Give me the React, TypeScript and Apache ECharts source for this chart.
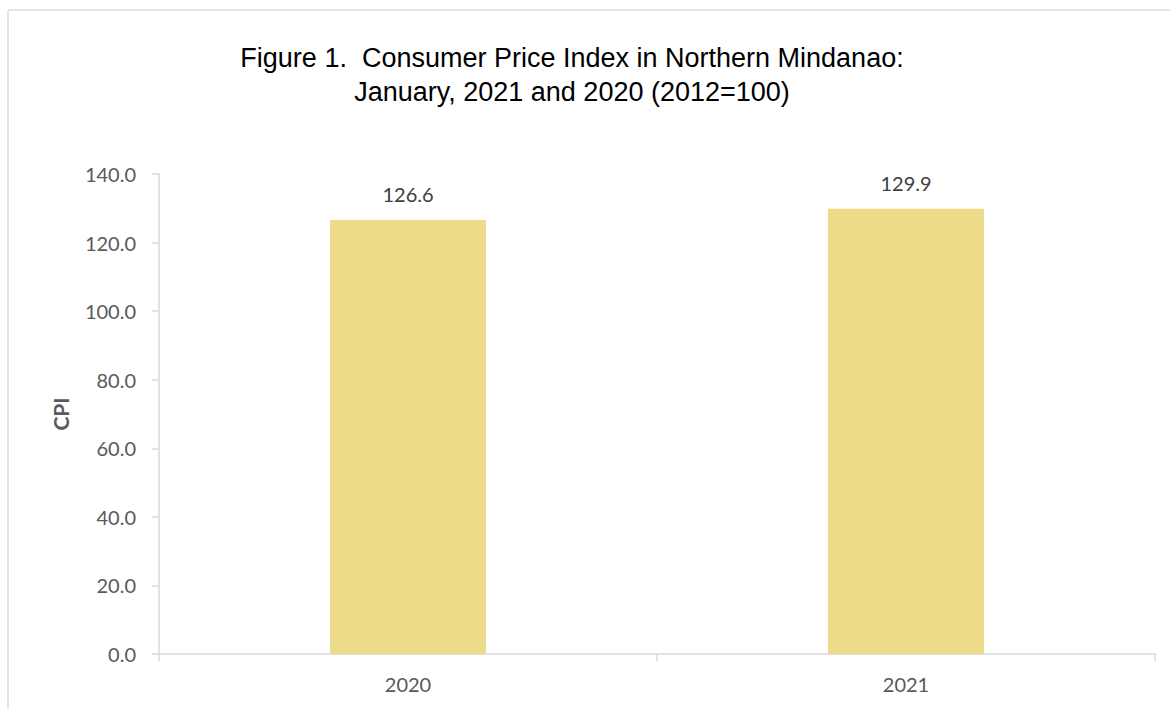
import React, { useEffect, useRef } from "react";
import * as echarts from "echarts";

const categories = ["2020", "2021"];
const cpiValues = [126.6, 129.9];
const titleLines = [
  "Figure 1.  Consumer Price Index in Northern Mindanao:",
  "January, 2021 and 2020 (2012=100)",
];
const yAxisName = "CPI";

export default function App() {
  const ref = useRef<HTMLDivElement>(null);
  useEffect(() => {
    if (!ref.current) return;
    const chart = echarts.init(ref.current, undefined, { renderer: "svg" });
    chart.setOption({
      animation: false,
      backgroundColor: "#ffffff",
      title: {
        text: titleLines.join("\n"),
        left: 567,
        textAlign: "center",
        top: 36,
        textStyle: {
          fontFamily: "Liberation Sans, Arial, sans-serif",
          fontSize: 27,
          fontWeight: "normal",
          color: "#000000",
          lineHeight: 34,
        },
      },
      graphic: [
        {
          type: "rect",
          shape: { x: 8, y: 10, width: 1200, height: 760 },
          style: { fill: "none", stroke: "#c9c9c9", lineWidth: 1 },
          silent: true,
          z: -1,
        },
      ],
      grid: { left: 159, right: 15, top: 174, bottom: 55 },
      xAxis: {
        type: "category",
        data: categories,
        axisLine: { show: true, lineStyle: { color: "#d9d9d9", width: 1.5 } },
        axisTick: { show: true, length: 7, lineStyle: { color: "#d9d9d9", width: 1.5 } },
        axisLabel: {
          fontFamily: "Lato, sans-serif",
          fontSize: 20,
          color: "#595959",
          margin: 20,
        },
      },
      yAxis: {
        type: "value",
        min: 0,
        max: 140,
        interval: 20,
        name: yAxisName,
        nameLocation: "middle",
        nameGap: 88,
        nameRotate: 90,
        nameTextStyle: {
          fontFamily: "Lato, sans-serif",
          fontSize: 21,
          fontWeight: "bold",
          color: "#595959",
        },
        splitLine: { show: false },
        axisLine: { show: true, lineStyle: { color: "#d9d9d9", width: 1.5 } },
        axisTick: { show: true, length: 7, inside: false, lineStyle: { color: "#d9d9d9", width: 1.5 } },
        axisLabel: {
          fontFamily: "Lato, sans-serif",
          fontSize: 20,
          color: "#595959",
          margin: 23,
          formatter: (v: number) => v.toFixed(1),
        },
      },
      series: [
        {
          type: "bar",
          data: cpiValues,
          barWidth: 156,
          itemStyle: { color: "#EDDB89" },
          label: {
            show: true,
            position: "top",
            distance: 16,
            fontFamily: "Lato, sans-serif",
            fontSize: 20,
            color: "#404040",
            formatter: (p: any) => p.value.toFixed(1),
          },
        },
      ],
    });
    return () => chart.dispose();
  }, []);
  return (
    <div
      ref={ref}
      style={{ position: "fixed", left: 0, top: 0, width: 1170, height: 709 }}
    />
  );
}
